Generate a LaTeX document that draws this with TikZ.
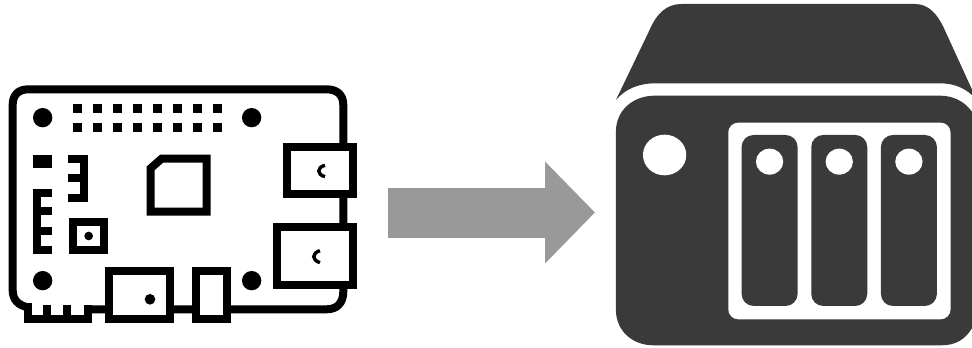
\documentclass[tikz,border=0pt]{standalone}
\usepackage{tikz}
\usetikzlibrary{arrows.meta}
\definecolor{nasgray}{HTML}{3A3A3A}
\definecolor{arrowgray}{HTML}{999999}
\begin{document}
\begin{tikzpicture}[x=1pt,y=-1pt,
  trace/.style={draw=black,line width=8pt,line join=miter},
  part/.style={trace,fill=white},
  solder/.style={fill=black},
  shell/.style={fill=nasgray},
  cutout/.style={fill=white},
  zoomed/.style={x=0.3333pt,y=-0.3333pt}]
  \useasboundingbox (0,0) rectangle (972,348);
  \fill[white] (0,0) rectangle (972,348);
  % board
  \begin{scope}[zoomed,shift={(0,210)}]
    \draw[trace] (84,712) .. controls (55,706) and (38,690) .. (38,660) -- (38,105)
      .. controls (38,75) and (55,58) .. (85,58) -- (980,58)
      .. controls (1012,58) and (1030,75) .. (1030,105) -- (1030,665)
      .. controls (1030,698) and (1012,718) .. (980,718) -- (263,718);
    \foreach \px in {232,292.2,352.4,412.6,472.8,533,593.2,653}
      \foreach \py in {115,172}
        \fill[solder] (\px-14,\py-14) rectangle (\px+14,\py+14);
    \foreach \hx/\hy in {128/143,755/143,128/632,755/632}
      \fill[solder] (\hx,\hy) circle (29);
    \fill[solder] (100,255) rectangle (155,295);
    \draw[line width=8pt] (205,267) -- (253,267) -- (253,383) -- (205,383) (205,323) -- (253,323);
    \draw[line width=8pt] (155,368) -- (112,368) -- (112,540) -- (155,540) (112,424) -- (155,424) (112,482) -- (155,482);
    \draw[trace] (220,455) rectangle (313,540);
    \fill[solder] (266,498) circle (13);
    \draw[trace] (452,295) -- (485,266) -- (620,266) -- (620,425) -- (452,425) -- cycle;
    \draw[part] (862,232) rectangle (1060,372);
    \draw[part] (832,472) rectangle (1060,645);
    \draw[line width=3.4pt] (975,286) .. controls (950,292) and (950,314) .. (975,320);
    \draw[line width=3.4pt] (960,542) .. controls (935,550) and (935,570) .. (960,578);
    \draw[line width=8pt] (84,700) -- (84,747) -- (263,747) -- (263,706) (140,704) -- (140,747) (202,704) -- (202,747);
    \draw[part] (327,602) rectangle (510,746);
    \fill[solder] (450,688) circle (16);
    \draw[part] (589,602) rectangle (680,748);
  \end{scope}
  % enclosure
  \begin{scope}[zoomed,shift={(1800,0)}]
    \fill[shell] (48,300) -- (148,92) .. controls (170,40) and (200,12) .. (245,12) -- (945,12)
      .. controls (985,12) and (1010,40) .. (1030,80) -- (1116,268) -- (1116,285)
      .. controls (1090,262) and (1060,250) .. (1020,250) -- (165,250)
      .. controls (115,250) and (75,268) .. (48,300) -- cycle;
    \fill[shell] (48,395) .. controls (48,330) and (100,287) .. (165,287) -- (1020,287)
      .. controls (1060,287) and (1095,305) .. (1116,335) -- (1116,985)
      .. controls (1095,1020) and (1065,1036) .. (1025,1036) -- (160,1036)
      .. controls (95,1036) and (48,990) .. (48,930) -- cycle;
    \fill[cutout] (194,465) ellipse (65 and 61);
    \fill[cutout,rounded corners=10pt] (385,368) rectangle (1052,958);
    \foreach \bx in {425,634,843} {
      \fill[shell,rounded corners=12pt] (\bx,405) rectangle (\bx+168,918);
      \fill[cutout] (\bx+84,485) ellipse (41 and 39);
    }
  \end{scope}
  \coordinate (boardside) at (388,212.5);
  \coordinate (shelfside) at (595,212.5);
  \draw[draw=arrowgray,line width=50pt,-{Triangle[length=50pt,width=99pt,fill=arrowgray]}] (boardside) -- (shelfside);
\end{tikzpicture}
\end{document}
